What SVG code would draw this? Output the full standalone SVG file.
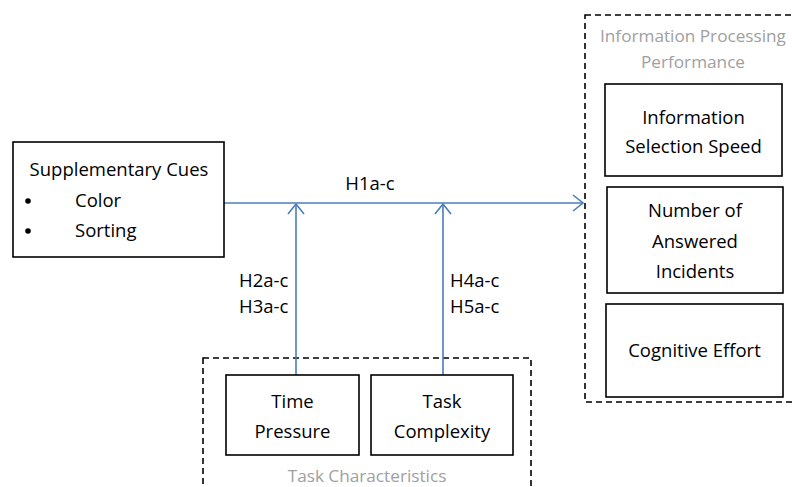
<svg xmlns="http://www.w3.org/2000/svg" width="792" height="487" viewBox="0 0 792 487">
  <style>
    .box { fill: #ffffff; stroke: #000000; stroke-width: 1.6; }
    .group { fill: none; stroke: #000000; stroke-width: 1.6; stroke-dasharray: 6 4; }
    .link { fill: none; stroke: #4a7ebb; stroke-width: 1.6; }
    .label { font-family: "Open Sans", "Liberation Sans", sans-serif; font-size: 18.5px; fill: #000000; }
    .title { font-family: "Open Sans", "Liberation Sans", sans-serif; font-size: 17.2px; fill: #a0a0a0; }
    .mid { text-anchor: middle; }
  </style>
  <defs>
    <marker id="chevron" markerWidth="14" markerHeight="18" refX="11" refY="9" orient="auto" markerUnits="userSpaceOnUse">
      <path d="M1,1 L11,9 L1,17" fill="none" stroke="#4a7ebb" stroke-width="1.6"/>
    </marker>
  </defs>
  <rect width="792" height="487" fill="#ffffff"/>

  <!-- grouping frames -->
  <g id="performance-group">
    <rect class="group" x="585" y="15" width="220" height="387"/>
    <text class="title mid" x="693" y="42">Information Processing</text>
    <text class="title mid" x="693" y="68">Performance</text>
  </g>
  <g id="task-group">
    <rect class="group" x="203" y="358" width="328" height="140"/>
    <text class="title mid" x="367" y="482">Task Characteristics</text>
  </g>

  <!-- connectors -->
  <g id="connectors">
    <line class="link" x1="224" y1="203" x2="583" y2="203" marker-end="url(#chevron)"/>
    <line class="link" x1="296" y1="375" x2="296" y2="204" marker-end="url(#chevron)"/>
    <line class="link" x1="443" y1="375" x2="443" y2="204" marker-end="url(#chevron)"/>
    <text class="label mid" x="370" y="190">H1a-c</text>
    <text class="label" x="239" y="287">H2a-c</text>
    <text class="label" x="239" y="313">H3a-c</text>
    <text class="label" x="450" y="287">H4a-c</text>
    <text class="label" x="450" y="313">H5a-c</text>
  </g>

  <g id="supplementary-cues">
    <rect class="box" x="13" y="142" width="211" height="115"/>
    <text class="label mid" x="119" y="176">Supplementary Cues</text>
    <circle cx="28" cy="201" r="2.8" fill="#000000"/>
    <text class="label" x="75" y="207">Color</text>
    <circle cx="28" cy="231" r="2.8" fill="#000000"/>
    <text class="label" x="75" y="237">Sorting</text>
  </g>

  <g id="time-pressure">
    <rect class="box" x="226" y="375" width="133" height="80"/>
    <text class="label mid" x="292.5" y="408">Time</text>
    <text class="label mid" x="292.5" y="438">Pressure</text>
  </g>

  <g id="task-complexity">
    <rect class="box" x="371" y="375" width="142" height="80"/>
    <text class="label mid" x="442" y="408">Task</text>
    <text class="label mid" x="442" y="438">Complexity</text>
  </g>

  <g id="selection-speed">
    <rect class="box" x="605" y="84" width="177" height="92"/>
    <text class="label mid" x="693.5" y="124">Information</text>
    <text class="label mid" x="693.5" y="153">Selection Speed</text>
  </g>

  <g id="answered-incidents">
    <rect class="box" x="607" y="187" width="176" height="106"/>
    <text class="label mid" x="695" y="217">Number of</text>
    <text class="label mid" x="695" y="248">Answered</text>
    <text class="label mid" x="695" y="278">Incidents</text>
  </g>

  <g id="cognitive-effort">
    <rect class="box" x="606" y="304" width="177" height="93"/>
    <text class="label mid" x="694.5" y="357">Cognitive Effort</text>
  </g>
</svg>
